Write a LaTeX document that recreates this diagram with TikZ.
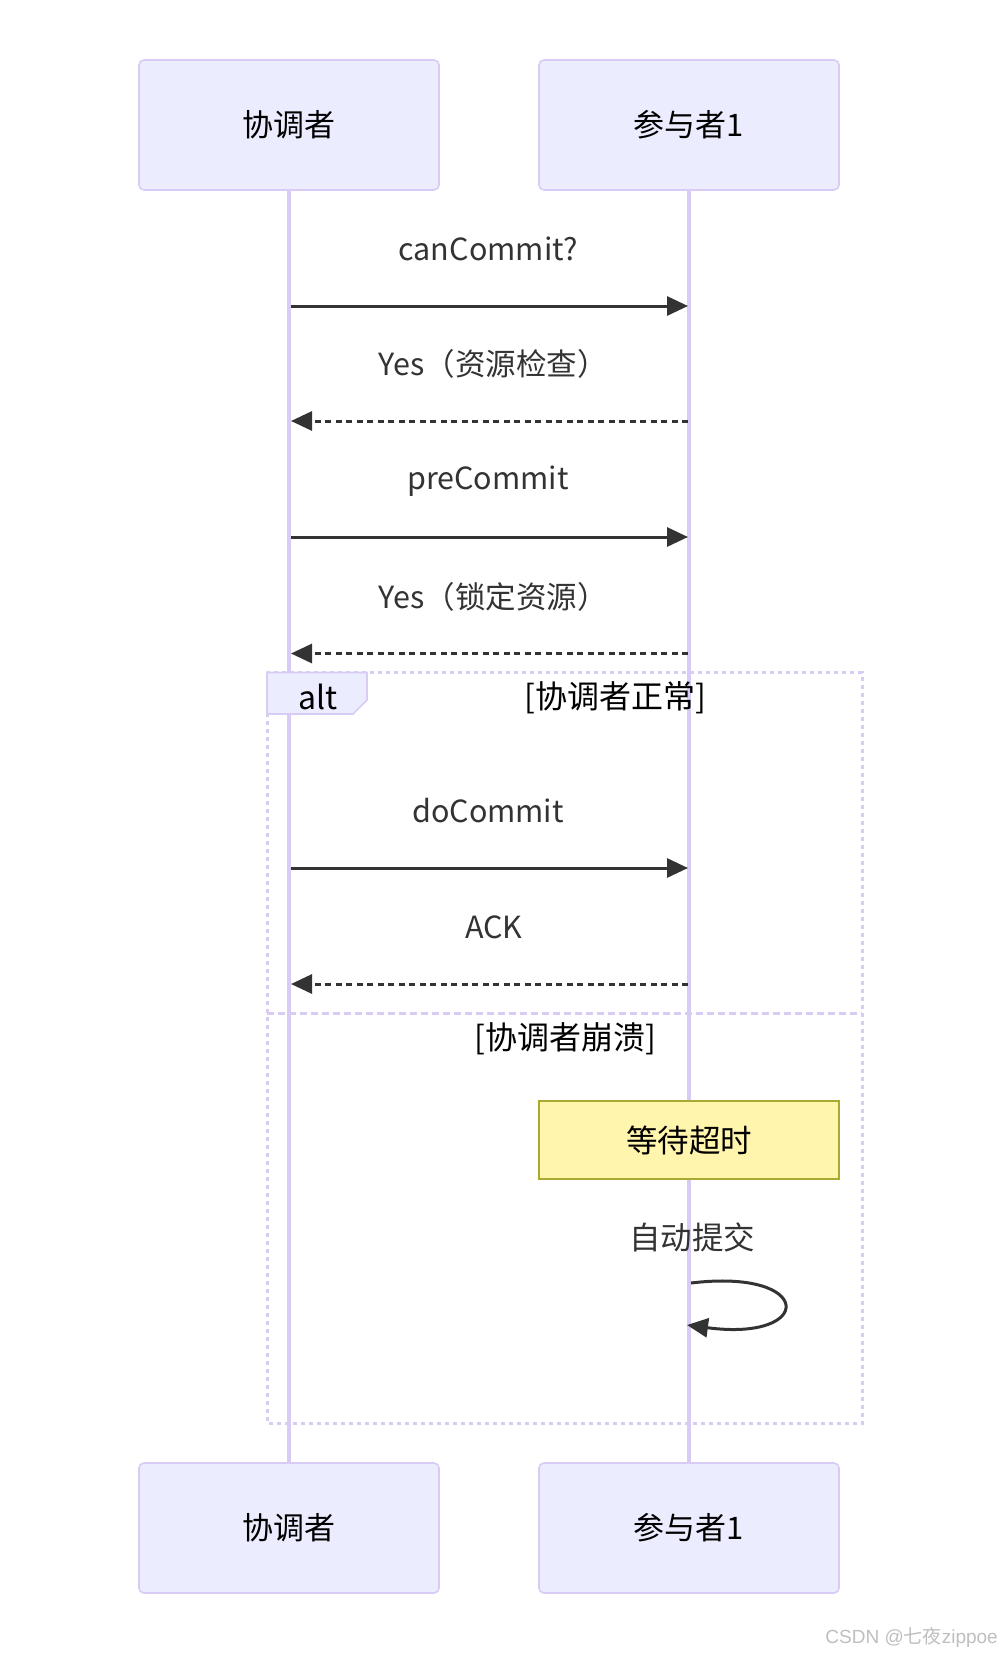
\documentclass[tikz,border=0pt]{standalone}
\usepackage{fontspec}
\setmainfont{Noto Sans CJK SC}
\newfontfamily\wmcjk{Noto Sans CJK SC}
\newfontfamily\wmlat{Liberation Sans}
\usetikzlibrary{arrows.meta}
\definecolor{actfill}{HTML}{ECECFF}
\definecolor{actline}{HTML}{D8CCF4}
\definecolor{msg}{HTML}{333333}
\definecolor{notefill}{HTML}{FFF5AD}
\definecolor{noteline}{HTML}{AAAA33}
\begin{document}
\begin{tikzpicture}[x=1pt,y=-1pt,
  actor/.style={draw=actline, fill=actfill, line width=1.6pt, rounded corners=5pt,
    minimum width=300pt, minimum height=130pt, inner sep=0pt,
    font=\fontsize{31}{36}\selectfont, text=black},
  lifeline/.style={draw=actline, line width=3.5pt},
  msgline/.style={draw=msg, line width=3pt, -{Triangle[length=21pt,width=19pt]}},
  reply/.style={msgline, dash pattern=on 6pt off 4.5pt},
  msglabel/.style={font=\fontsize{30.5}{35}\selectfont, text=msg, inner sep=0pt},
  seclabel/.style={font=\fontsize{32}{36}\selectfont, text=black, inner sep=0pt},
  frameline/.style={draw=actline, line width=3pt, dash pattern=on 4pt off 4pt},
  divline/.style={draw=actline, line width=3pt, dash pattern=on 7pt off 4pt},
  notebox/.style={draw=noteline, fill=notefill, line width=2pt,
    minimum width=300pt, minimum height=78pt, inner sep=0pt,
    font=\fontsize{31.5}{36}\selectfont, text=black}
]
\useasboundingbox (0,0) rectangle (1002,1656);
\fill[white] (0,0) rectangle (1002,1656);

% actors
\node[actor] (c1) at (289,125) {协调者};
\node[actor] (p1) at (689,125) {参与者1};
\node[actor] (c2) at (289,1528) {协调者};
\node[actor] (p2) at (689,1528) {参与者1};

% lifelines
\draw[lifeline] (c1.south) -- (c2.north);
\draw[lifeline] (p1.south) -- (p2.north);

% alt frame
\draw[frameline] (267,672.5) rectangle (862,1423);
\draw[divline] (267,1013.5) -- (862,1013.5);
\filldraw[fill=actfill, draw=actline, line width=1.6pt]
  (267,672.5) -- (367,672.5) -- (367,700) -- (353,714) -- (267,714) -- cycle;
\node[seclabel] (altlbl) at (318,697) {alt};
\node[seclabel] (sec1) at (615,698) {[协调者正常]};
\node[seclabel] (sec2) at (565,1039) {[协调者崩溃]};

% message coordinates
\coordinate (a1) at (291,306);  \coordinate (b1) at (688,306);
\coordinate (a2) at (291,421);  \coordinate (b2) at (688,421);
\coordinate (a3) at (291,537);  \coordinate (b3) at (688,537);
\coordinate (a4) at (291,653.5);\coordinate (b4) at (688,653.5);
\coordinate (a5) at (291,868);  \coordinate (b5) at (688,868);
\coordinate (a6) at (291,984);  \coordinate (b6) at (688,984);

\node[msglabel] (l1) at (488,249) {canCommit?};
\draw[msgline] (a1) -- (b1);
\node[msglabel] (l2) at (493,364) {Yes（资源检查）};
\draw[reply] (b2) -- (a2);
\node[msglabel] (l3) at (488,481) {preCommit};
\draw[msgline] (a3) -- (b3);
\node[msglabel] (l4) at (493,596.5) {Yes（锁定资源）};
\draw[reply] (b4) -- (a4);

\node[msglabel] (l5) at (488,811) {doCommit};
\draw[msgline] (a5) -- (b5);
\node[msglabel] (l6) at (494,927) {ACK};
\draw[reply] (b6) -- (a6);

% note
\node[notebox] (note) at (689,1140) {等待超时};

% self message
\node[msglabel, font=\fontsize{31.5}{36}\selectfont] (l7) at (692,1237) {自动提交};
\coordinate (s1) at (691,1283);
\coordinate (s2) at (687,1325);
\draw[msgline] (s1) .. controls (815,1268) and (815,1342) .. (s2);

% watermark
\node[anchor=east, inner sep=0pt, text=black!25, font=\fontsize{19}{22}\selectfont] (wm) at (998,1637) {\wmlat CSDN @\wmcjk 七夜\wmlat zippoe};
\end{tikzpicture}
\end{document}
